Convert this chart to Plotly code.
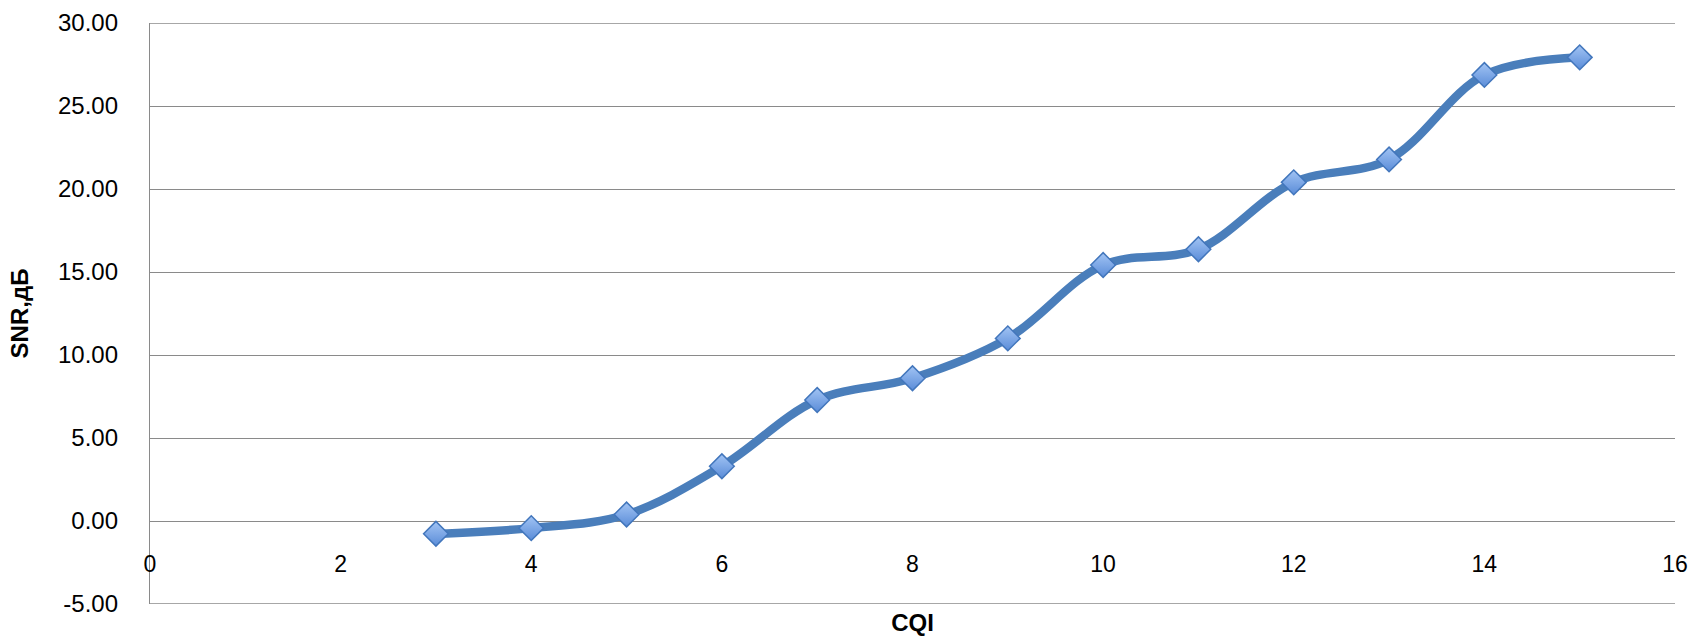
import plotly.graph_objects as go

# CQI index vs. required SNR (dB)
cqi = [3, 4, 5, 6, 7, 8, 9, 10, 11, 12, 13, 14, 15]
snr_db = [-0.77, -0.43, 0.39, 3.30, 7.29, 8.60, 11.00, 15.42, 16.37, 20.40, 21.78, 26.87, 27.93]

y_ticks = [-5, 0, 5, 10, 15, 20, 25, 30]
y_tick_labels = ["-5.00", "0.00", "5.00", "10.00", "15.00", "20.00", "25.00", "30.00"]
x_ticks = [0, 2, 4, 6, 8, 10, 12, 14, 16]

Y_MIN, Y_MAX = -5, 30
GRID = "#8a8a8a"
FONT = "Liberation Sans, Arial, sans-serif"

fig = go.Figure()
fig.add_trace(go.Scatter(
    x=cqi,
    y=snr_db,
    mode="lines+markers",
    line=dict(color="#4A7EBB", width=8.5, shape="spline", smoothing=1.0),
    marker=dict(
        symbol="diamond",
        size=19,
        color="#A2C4F4",
        gradient=dict(type="vertical", color="#5A8CD8"),
        line=dict(color="#4276BC", width=1.5),
    ),
    showlegend=False,
))

# Gridlines at the range edges (top and bottom of the plot area)
for edge in (Y_MIN, Y_MAX):
    fig.add_shape(
        type="line", xref="paper", x0=0, x1=1, yref="y", y0=edge, y1=edge,
        line=dict(color=GRID, width=1.3), layer="below",
    )

fig.update_layout(
    width=1694,
    height=636,
    margin=dict(l=150, r=19, t=23, b=32),
    paper_bgcolor="white",
    plot_bgcolor="white",
    font=dict(family=FONT, size=24, color="black"),
    xaxis=dict(
        range=[0, 16],
        tickvals=x_ticks,
        showgrid=False,
        zeroline=False,
        showline=False,
        anchor="free",
        position=(0 - Y_MIN) / (Y_MAX - Y_MIN),
        ticks="outside",
        ticklen=22,
        tickcolor="rgba(0,0,0,0)",
        tickfont=dict(size=23),
        automargin=False,
        title=dict(text="<b>CQI</b>", font=dict(size=24), standoff=40),
    ),
    yaxis=dict(
        range=[Y_MIN, Y_MAX],
        tickvals=y_ticks,
        ticktext=y_tick_labels,
        showgrid=True,
        gridcolor=GRID,
        gridwidth=1.3,
        zeroline=False,
        showline=True,
        linecolor=GRID,
        linewidth=1.3,
        ticks="",
        ticklabelstandoff=26,
        tickfont=dict(size=24),
        automargin=False,
        title=dict(text="<b>SNR,дБ</b>", font=dict(size=24), standoff=22),
    ),
)

fig.write_html("out.html")
